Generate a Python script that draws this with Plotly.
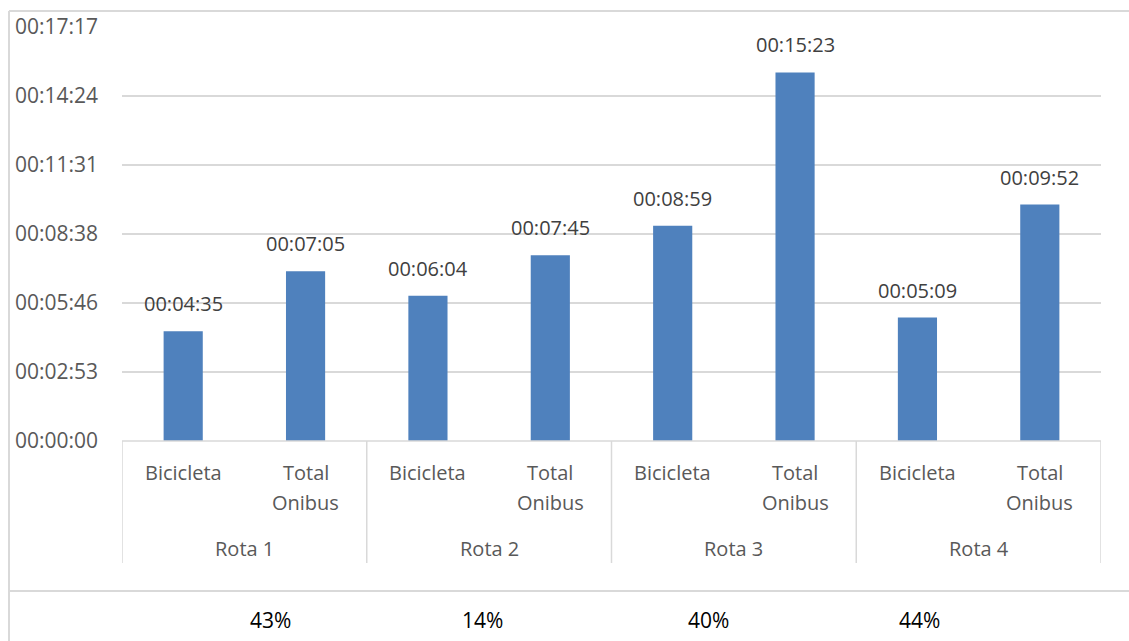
import plotly.graph_objects as go

# Travel times per route, in seconds
rotas = ["Rota 1", "Rota 2", "Rota 3", "Rota 4"]
modos = [["Bicicleta"], ["Total", "Onibus"]]
tempos_s = [275, 425, 364, 465, 539, 923, 309, 592]   # Bicicleta, Total Onibus per route
percentuais = ["43%", "14%", "40%", "44%"]
ticks_s = [0, 172.8, 345.6, 518.4, 691.2, 864.0, 1036.8]


def hms(sec):
    sec = int(round(sec))
    return f"{sec // 3600:02d}:{(sec % 3600) // 60:02d}:{sec % 60:02d}"


FONT = "Open Sans"
GREY = "#595959"
LINE = "#d9d9d9"
PLOT_H = 414.0  # plot area height in px, used to place rows below the axis


def py(px_below):
    """paper y for a row given in pixels below the category axis"""
    return -px_below / PLOT_H


xs = list(range(len(tempos_s)))

fig = go.Figure()
fig.add_trace(go.Bar(
    x=xs, y=tempos_s, width=0.32,
    marker=dict(color="#4f81bd", line=dict(width=0)),
    hoverinfo="skip",
))

# Data labels above each bar
for x, v in zip(xs, tempos_s):
    fig.add_annotation(x=x, y=v, text=hms(v), showarrow=False,
                       yanchor="bottom", yshift=12,
                       font=dict(family=FONT, size=20, color="#404040"))

# Category labels (first level), one line at a time
for x in xs:
    for j, line in enumerate(modos[x % 2]):
        fig.add_annotation(x=x, y=py(32 + 29 * j), yref="paper", text=line,
                           showarrow=False, yanchor="middle",
                           font=dict(family=FONT, size=20, color=GREY))

# Route labels (second category level)
for i, r in enumerate(rotas):
    fig.add_annotation(x=2 * i + 0.5, y=py(107), yref="paper", text=r,
                       showarrow=False, yanchor="middle",
                       font=dict(family=FONT, size=20, color=GREY))

# Percent row below the chart
pct_x = [0.1287, 0.3687, 0.5986, 0.8376]
for px, p in zip(pct_x, percentuais):
    fig.add_annotation(x=px, xref="paper", y=py(179), yref="paper", text=p,
                       showarrow=False, yanchor="middle",
                       font=dict(family=FONT, size=21, color="#000000"))

shapes = []
# Category group dividers
for xb in [-0.5, 1.5, 3.5, 5.5, 7.5]:
    shapes.append(dict(type="line", xref="x", yref="paper", x0=xb, x1=xb,
                       y0=0, y1=py(122), line=dict(color=LINE, width=1.5)))
# Category axis baseline
shapes.append(dict(type="line", xref="x", yref="paper", x0=-0.5, x1=7.5,
                   y0=0, y1=0, line=dict(color=LINE, width=1.5)))
# Chart frame and table row
shapes.append(dict(type="line", xref="paper", yref="paper", x0=-0.1154, x1=1.04,
                   y0=1.0386, y1=1.0386, line=dict(color=LINE, width=2)))
shapes.append(dict(type="line", xref="paper", yref="paper", x0=-0.1154, x1=1.04,
                   y0=py(150), y1=py(150), line=dict(color=LINE, width=2)))
shapes.append(dict(type="line", xref="paper", yref="paper", x0=-0.1154, x1=-0.1154,
                   y0=1.0386, y1=-0.6, line=dict(color=LINE, width=2)))

fig.update_layout(
    width=1129, height=641,
    margin=dict(l=122, r=28, t=27, b=200),
    paper_bgcolor="white", plot_bgcolor="white",
    showlegend=False,
    shapes=shapes,
    xaxis=dict(range=[-0.5, 7.5], showticklabels=False,
               showgrid=False, zeroline=False, showline=False, ticks=""),
    yaxis=dict(range=[0, 1036.8], tickvals=ticks_s,
               ticktext=[hms(t) for t in ticks_s],
               showgrid=True, gridcolor=LINE, gridwidth=1.5,
               zeroline=False, showline=False, ticks="",
               ticklabelstandoff=23,
               tickfont=dict(family=FONT, size=21, color=GREY)),
)

fig.write_html("out.html")
